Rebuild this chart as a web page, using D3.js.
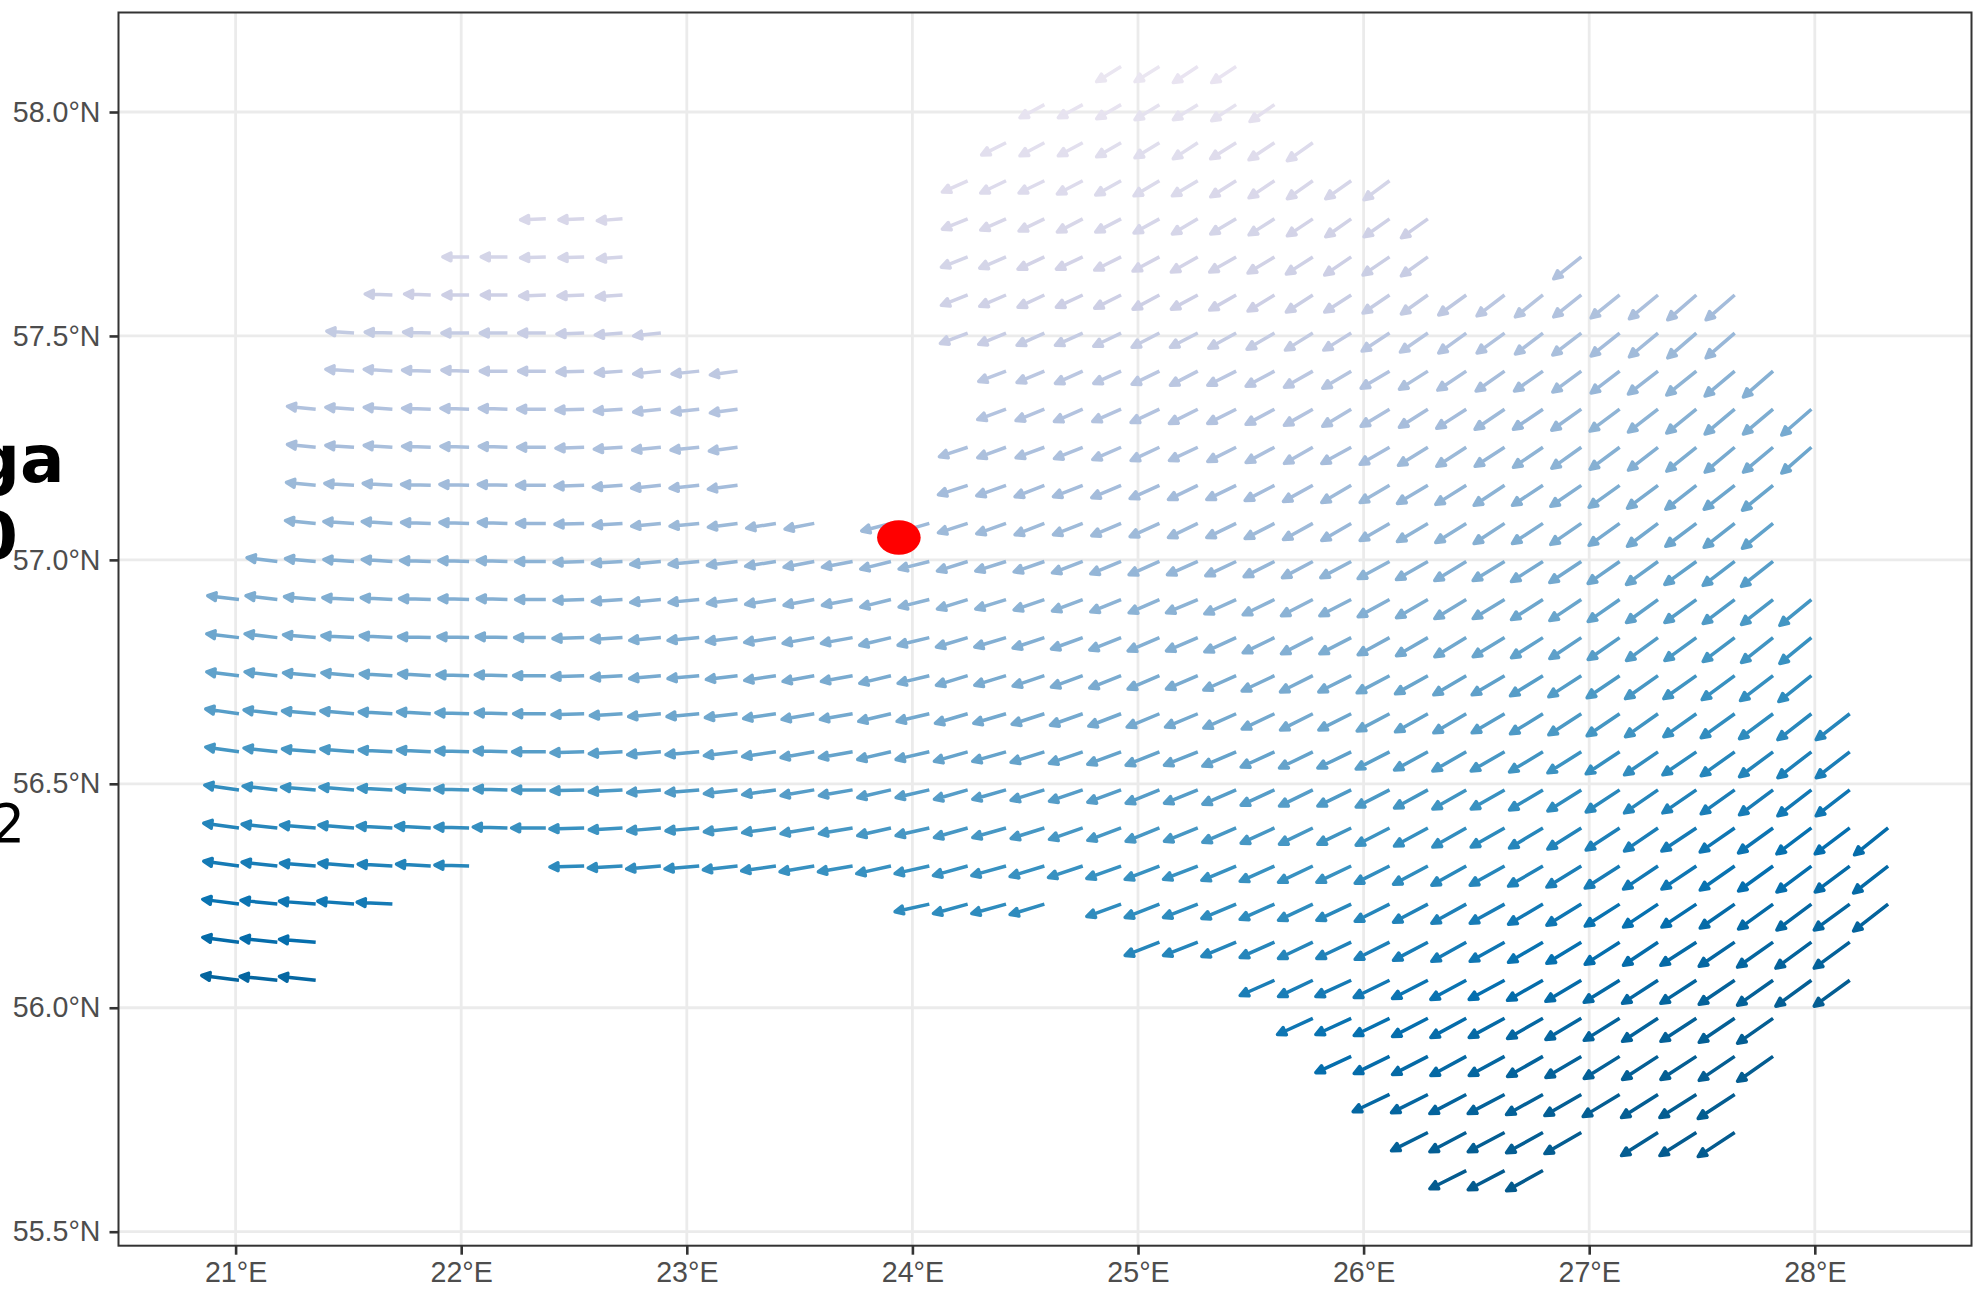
<!DOCTYPE html>
<html><head><meta charset="utf-8"><title>Wind field</title>
<script src="https://cdn.jsdelivr.net/npm/d3@7"></script>
<style>html,body{margin:0;padding:0;background:#fff;overflow:hidden}svg{display:block}</style>
</head><body><div id="chart"></div>
<script>
const lonTicks = [21,22,23,24,25,26,27,28];
const latTicks = [55.5,56,56.5,57,57.5,58];
const lonLabels = ["21°E","22°E","23°E","24°E","25°E","26°E","27°E","28°E"];
const latLabels = ["55.5°N","56.0°N","56.5°N","57.0°N","57.5°N","58.0°N"];
const cityPoint = [23.94, 57.05];
const rowLats = [58.103,58.018,57.933,57.848,57.763,57.678,57.593,57.508,57.423,57.338,57.253,57.168,57.083,56.998,56.913,56.828,56.743,56.658,56.573,56.488,56.403,56.318,56.233,56.148,56.063,55.978,55.893,55.808,55.723,55.638];
const colLons = [21.015,21.185,21.355,21.525,21.695,21.865,22.035,22.205,22.375,22.545,22.715,22.885,23.055,23.225,23.395,23.565,23.735,23.905,24.075,24.245,24.415,24.585,24.755,24.925,25.095,25.265,25.435,25.605,25.775,25.945,26.115,26.285,26.455,26.625,26.795,26.965,27.135,27.305,27.475,27.645,27.815,27.985,28.155,28.325];
const rowSpans = [
[[23,26]],[[21,27]],[[20,28]],[[19,30]],[[8,10],[19,31]],[[6,10],[19,31],[35,35]],[[4,10],[19,39]],[[3,11],[19,39]],[[3,13],[20,40]],[[2,13],[20,41]],
[[2,13],[19,41]],[[2,13],[19,40]],[[2,15],[17,40]],[[1,40]],[[0,41]],[[0,41]],[[0,41]],[[0,42]],[[0,42]],[[0,42]],
[[0,43]],[[0,6],[9,43]],[[0,4],[18,21],[23,43]],[[0,2],[24,42]],[[0,2],[27,42]],[[28,40]],[[29,40]],[[30,39]],[[31,35],[37,39]],[[32,34]]];
const westward = [
[26,26,26,26],
[26,26,26,26,26,26,26],
[26,26,26,26,26,26,27,27,27],
[27,27,27,27,27,27,27,27,27,27,27,27],
[27,27,27,27,27,27,27,27,27,27,27,27,27,27,27,28],
[28,28,27,27,27,28,28,28,28,28,28,28,28,28,28,28,28,28,29],
[29,28,28,28,28,28,28,28,28,28,28,28,28,28,28,28,28,28,28,28,29,29,29,29,30,30,30,30],
[29,29,29,29,29,29,29,29,29,29,29,29,29,29,29,29,29,29,29,29,29,29,29,29,29,30,30,30,30,30],
[30,30,30,29,29,29,29,29,29,29,29,29,29,29,29,29,29,30,30,30,30,30,30,30,30,30,30,30,31,31,31,31],
[30,30,30,30,30,30,30,30,30,29,29,29,30,30,30,30,30,30,30,30,30,30,30,30,31,31,31,31,31,31,31,31,31,31],
[30,30,30,30,30,30,30,30,30,30,30,30,30,30,30,30,30,30,30,30,30,30,31,31,31,31,31,31,31,31,31,31,31,31,31],
[31,31,31,31,31,31,31,31,31,31,31,31,31,31,31,31,31,31,31,31,31,31,31,31,32,32,32,32,32,32,32,32,32,32],
[32,32,32,31,31,31,31,31,31,31,31,31,31,31,31,31,31,31,31,31,31,31,31,31,31,31,31,31,32,32,32,32,32,32,32,32,32,32],
[32,32,32,32,32,32,32,32,32,32,32,32,32,32,32,32,32,32,32,32,32,32,32,32,32,32,32,32,32,33,33,33,33,33,33,33,33,33,33,33],
[33,33,33,33,33,33,32,32,32,32,32,32,32,32,32,32,32,32,32,32,32,32,32,32,32,33,33,33,33,33,33,33,33,33,33,33,33,33,33,33,33,33],
[34,34,34,34,34,34,33,33,33,33,33,33,33,33,33,33,33,33,33,33,33,33,33,33,33,33,33,33,33,33,33,33,33,33,33,33,33,33,33,33,33,33],
[34,34,34,34,34,34,34,34,34,34,33,33,33,33,33,33,33,33,33,33,33,33,33,33,33,33,34,34,34,34,34,34,34,34,34,34,34,34,34,34,34,34],
[35,35,35,35,35,35,35,34,34,34,34,34,34,34,34,34,34,34,34,34,34,34,34,34,34,34,34,34,34,34,34,34,34,34,34,34,34,34,34,35,35,35,35],
[35,35,35,35,35,35,35,35,35,35,35,35,35,35,35,35,35,35,35,35,35,35,35,35,35,35,35,35,35,35,35,35,35,35,35,35,35,35,35,35,35,35,35],
[36,36,36,36,36,36,36,35,35,35,35,35,35,35,35,35,35,35,35,35,35,35,35,35,35,35,35,35,35,35,35,35,35,35,35,35,35,35,35,35,35,35,35],
[37,37,37,37,37,37,36,36,36,36,35,35,35,35,35,35,35,35,35,35,35,35,35,35,35,35,35,35,35,35,35,35,35,35,35,35,35,35,36,36,36,36,36,35],
[37,37,37,37,36,36,36,36,36,36,36,36,36,36,36,36,36,36,36,36,36,36,36,36,36,36,36,36,36,36,36,36,36,36,36,36,36,36,36,36,36,36],
[38,38,38,38,37,36,36,36,36,36,36,36,36,36,36,36,36,36,36,36,36,36,36,36,36,36,36,36,37,36],
[38,38,38,36,36,36,36,36,36,36,36,36,36,36,36,36,36,37,37,37,37,37],
[39,39,38,36,36,37,37,37,37,37,37,37,37,37,37,37,37,37,37],
[37,37,37,37,37,37,37,37,37,37,37,37,37],
[37,37,37,37,37,37,37,37,37,37,37,37],
[38,38,38,38,38,38,38,38,38,38],
[38,38,38,38,38,38,38,38],
[38,38,38]];
const southward = [
[16,16,17,17],
[14,14,15,16,16,17,18],
[13,14,14,15,16,17,17,18,19],
[12,13,13,14,15,16,16,17,18,19,19,20],
[1,1,2,11,12,13,14,14,15,16,16,17,18,19,19,20],
[0,0,1,1,2,11,12,13,13,14,15,16,16,17,18,19,19,20,23],
[-1,-1,0,0,1,1,2,11,12,13,13,14,15,15,16,17,18,18,19,20,21,22,23,23,24,25,26,26],
[-2,-1,-1,0,0,0,1,2,3,11,12,13,13,14,15,15,16,17,18,18,19,20,21,21,22,23,24,25,26,26],
[-2,-2,-1,-1,0,0,1,2,3,3,4,11,12,13,13,14,15,15,16,17,18,18,19,20,21,21,22,23,24,25,26,27],
[-3,-2,-2,-1,-1,-1,0,1,2,3,3,4,11,12,13,13,14,15,15,16,17,18,18,19,20,21,21,22,23,24,25,26,26,27],
[-3,-2,-2,-1,-1,-1,0,1,2,3,3,4,10,11,11,12,13,14,14,15,16,17,17,18,19,20,20,21,22,23,24,25,26,26,27],
[-3,-2,-2,-1,-1,-1,0,1,2,3,3,4,10,11,12,12,13,14,15,15,16,17,18,18,19,20,21,21,22,23,24,25,25,26],
[-3,-2,-2,-1,-1,-1,0,1,2,3,3,4,5,6,8,9,10,11,12,12,13,14,15,15,16,17,18,18,19,20,21,21,22,23,24,24,25,26],
[-4,-3,-2,-2,-1,-1,-1,0,1,2,3,3,4,5,6,6,8,8,10,10,11,12,13,14,14,15,16,17,17,18,19,20,20,21,22,23,24,24,25,26],
[-4,-4,-3,-2,-2,-1,-1,-1,0,1,2,3,3,4,5,6,6,8,8,10,10,11,12,13,14,14,15,16,17,17,18,19,20,20,21,22,23,24,24,25,26,27],
[-4,-4,-3,-2,-2,-1,-1,-1,0,1,2,3,3,4,5,6,6,8,8,10,10,11,12,13,14,14,15,16,17,17,18,19,20,20,21,22,23,24,24,25,26,27],
[-4,-4,-3,-3,-2,-2,-1,-1,0,1,2,3,3,4,5,6,6,8,8,10,10,11,12,13,14,14,15,16,17,17,18,19,20,20,21,22,23,24,24,25,26,27],
[-5,-4,-3,-3,-2,-2,-1,-1,0,1,2,3,3,4,5,6,6,8,8,10,10,11,12,13,14,14,15,16,17,17,18,19,20,20,21,22,23,24,24,25,26,27,27],
[-5,-4,-3,-3,-2,-2,-1,-1,0,1,2,3,3,4,5,6,6,8,8,10,10,11,12,13,14,14,15,16,17,17,18,19,20,20,21,22,23,24,24,25,26,27,27],
[-5,-4,-3,-3,-2,-2,-1,-1,0,1,2,3,3,4,5,6,6,8,8,10,10,11,12,13,14,14,15,16,17,17,18,19,20,20,21,22,23,24,24,25,26,27,27],
[-5,-4,-3,-3,-2,-2,-1,-1,0,1,2,3,3,4,5,6,6,8,8,10,10,11,12,13,14,14,15,16,17,17,18,19,20,20,21,22,23,24,24,25,26,27,27,28],
[-5,-4,-3,-3,-2,-2,-1,1,2,3,3,4,5,6,6,8,8,10,10,11,12,13,14,14,15,16,17,17,18,19,20,20,21,22,23,24,24,25,26,27,27,28],
[-5,-4,-3,-3,-2,8,10,10,11,13,14,14,15,16,17,17,18,19,20,20,21,22,23,24,24,25,26,27,27,28],
[-5,-4,-3,14,14,15,16,17,17,18,19,20,20,21,22,23,24,24,25,26,27,27],
[-5,-4,-4,16,17,17,18,19,20,20,21,22,23,24,24,25,26,27,27],
[17,17,18,19,20,20,21,22,23,24,24,25,26],
[17,18,19,20,20,21,22,23,24,24,25,26],
[18,19,20,20,21,22,23,24,24,25],
[19,20,20,21,22,24,24,25],
[19,20,21]];
const tones = [
[1,1,2,2],
[3,3,3,4,4,4,5],
[6,6,6,7,7,7,8,8,9],
[8,9,9,9,10,10,10,11,11,12,13,14],
[12,12,12,12,12,12,12,13,13,13,14,14,15,16,17,18],
[14,14,14,14,14,14,14,15,15,15,15,15,16,16,17,18,19,20,29],
[19,18,18,18,17,17,17,17,17,17,18,18,18,18,18,18,19,20,21,22,24,25,27,29,30,31,33,34],
[22,22,21,21,21,20,20,20,20,20,20,21,21,21,21,21,21,21,22,23,25,26,28,29,31,32,34,35,37,38],
[25,25,25,24,24,24,24,24,24,24,24,25,25,25,25,25,25,25,25,25,27,28,30,31,33,35,36,38,39,41,43,44],
[29,29,29,28,28,28,28,28,28,28,28,28,28,28,28,28,28,28,28,28,28,30,31,33,34,36,38,39,41,42,44,46,47,49],
[33,33,32,32,32,32,32,31,31,31,31,31,31,31,31,31,31,31,31,31,31,31,33,34,36,37,39,41,42,44,45,47,49,50,52],
[37,36,36,36,35,35,35,35,35,34,34,34,34,34,34,34,34,34,34,34,34,34,36,37,39,40,42,44,45,47,48,50,52,53],
[41,40,40,39,39,39,38,38,38,37,37,37,36,36,36,36,36,36,36,36,36,36,36,36,36,36,38,39,41,42,44,46,47,49,50,52,54,55],
[45,44,44,43,43,43,42,42,41,41,41,40,40,40,39,39,39,39,39,39,39,39,39,39,39,39,39,39,41,42,44,45,47,49,50,52,53,55,57,58],
[48,47,47,46,46,45,45,44,44,44,43,43,43,42,42,42,42,42,42,42,42,42,42,42,42,42,42,42,42,44,45,47,48,50,52,53,55,56,58,60,61,63],
[52,51,50,50,49,49,48,48,47,47,46,46,46,45,45,45,45,45,45,45,45,45,45,45,45,45,45,45,45,47,48,50,51,53,55,56,58,59,61,63,64,66],
[55,55,54,53,53,52,52,51,51,50,50,49,49,49,48,48,48,48,48,48,48,48,48,48,48,48,48,48,48,50,51,53,54,56,58,59,61,62,64,66,67,69],
[58,58,57,56,56,55,55,54,54,53,53,52,52,51,51,50,50,50,50,50,50,50,50,50,50,50,50,50,50,52,53,55,56,58,60,61,63,64,66,68,69,71,72],
[63,62,62,61,60,59,59,58,58,57,57,56,56,55,55,54,54,54,54,54,54,54,54,54,54,54,54,54,54,56,57,59,60,62,64,65,67,68,70,72,73,75,76],
[68,67,66,65,65,64,63,63,62,61,61,60,60,59,59,58,58,58,58,58,58,58,58,58,58,58,58,58,58,60,61,63,64,66,68,69,71,72,74,76,77,79,80],
[73,72,71,70,69,69,68,67,66,66,65,64,64,63,63,62,62,62,62,62,62,62,62,62,62,62,62,62,62,64,65,67,68,70,72,73,75,76,78,80,81,83,84,86],
[78,77,76,75,74,73,72,70,69,68,68,67,67,66,66,66,66,66,66,66,66,66,66,66,66,66,66,66,68,69,71,72,74,76,77,79,80,82,84,85,87,88,90],
[82,81,80,79,78,69,69,69,69,69,69,69,69,69,69,71,72,74,75,77,79,80,82,83,85,87,88,90,91,93],
[87,86,85,72,72,72,72,72,74,75,77,78,80,82,83,85,86,88,90,91,93,94],
[92,91,90,76,76,78,79,81,82,84,86,87,89,90,92,94,95,96,97],
[80,82,83,85,86,88,90,91,93,94,95,96,97],
[85,86,88,89,91,93,94,95,96,97,97,98],
[90,91,93,94,95,96,97,97,98,98],
[95,96,97,97,98,98,99,99],
[99,99,100]];
const palette = ["#ece7f2","#d0d1e6","#a6bddb","#74a9cf","#3690c0","#0570b0","#045a8d"];

const W = 1982, H = 1289;
const panel = {left:118.5, right:1971.5, top:12.5, bottom:1245.7};
const x = d3.scaleLinear().domain([21,28]).range([235.6,1814.8]);
const y = d3.scaleLinear().domain([55.5,58]).range([1231.7,112]);
const color = d3.scaleLinear().domain(palette.map((_,i)=>i*100/(palette.length-1))).range(palette).interpolate(d3.interpolateRgb);
// one vector unit is one pixel at the chart's scales
const lonPerUnit = 1/225.6, latPerUnit = 1/448;

const arrows = [];
rowSpans.forEach((spans,r)=>{
  let k = 0;
  spans.forEach(([a,b])=>{
    for(let c=a;c<=b;c++){
      arrows.push({lon:colLons[c],lat:rowLats[r],u:westward[r][k],v:southward[r][k],t:tones[r][k]});
      k++;
    }
  });
});

const svg = d3.select("#chart").append("svg").attr("width",W).attr("height",H);
svg.append("rect").attr("width",W).attr("height",H).attr("fill","#fff");

const defs = svg.append("defs");
defs.append("clipPath").attr("id","panelClip").append("rect")
  .attr("x",panel.left).attr("y",panel.top).attr("width",panel.right-panel.left).attr("height",panel.bottom-panel.top);

const grid = svg.append("g").attr("stroke","#ebebeb").attr("stroke-width",2.8).attr("clip-path","url(#panelClip)");
grid.selectAll("line.v").data(lonTicks).join("line").attr("class","v")
  .attr("x1",d=>x(d)).attr("x2",d=>x(d)).attr("y1",panel.top).attr("y2",panel.bottom);
grid.selectAll("line.h").data(latTicks).join("line").attr("class","h")
  .attr("y1",d=>y(d)).attr("y2",d=>y(d)).attr("x1",panel.left).attr("x2",panel.right);

function arrowPath(d){
  const x0=x(d.lon), y0=y(d.lat)+0.7;
  const x1=x(d.lon-d.u*lonPerUnit), y1=y(d.lat-d.v*latPerUnit)+0.7;
  const a=Math.atan2(y1-y0,x1-x0), ca=Math.cos(a), sa=Math.sin(a);
  const tx=x1-ca*1.8, ty=y1-sa*1.8;
  const bx=tx-ca*8, by=ty-sa*8;
  return `M${x0},${y0}L${bx},${by}M${tx},${ty}L${bx-sa*3.9},${by+ca*3.9}L${bx+sa*3.9},${by-ca*3.9}Z`;
}
svg.append("g").attr("clip-path","url(#panelClip)").selectAll("path").data(arrows).join("path")
  .attr("d",arrowPath)
  .attr("stroke",d=>color(d.t)).attr("fill",d=>color(d.t))
  .attr("stroke-width",3.5).attr("stroke-linejoin","round").attr("stroke-linecap","butt");

svg.append("ellipse").attr("cx",x(cityPoint[0])).attr("cy",y(cityPoint[1]))
  .attr("rx",21.8).attr("ry",17.2).attr("fill","#ff0000");

svg.append("rect").attr("x",panel.left).attr("y",panel.top)
  .attr("width",panel.right-panel.left).attr("height",panel.bottom-panel.top)
  .attr("fill","none").attr("stroke","#333333").attr("stroke-width",2);

const xAxis = d3.axisBottom(x).tickValues(lonTicks).tickSize(9).tickPadding(7)
  .tickFormat((d,i)=>lonLabels[i]);
const yAxis = d3.axisLeft(y).tickValues(latTicks).tickSize(9).tickPadding(9)
  .tickFormat((d,i)=>latLabels[i]);
const gx = svg.append("g").attr("transform",`translate(0,${panel.bottom})`).call(xAxis);
const gy = svg.append("g").attr("transform",`translate(${panel.left},0)`).call(yAxis);
[gx,gy].forEach(g=>{
  g.select(".domain").remove();
  g.selectAll("line").attr("stroke","#333333").attr("stroke-width",2.6);
  g.selectAll("text").attr("fill","#4d4d4d").attr("font-family","'Liberation Sans',Arial,sans-serif").attr("font-size",28.6);
});

const clipped = svg.append("g").attr("font-family","'DejaVu Sans',sans-serif").attr("fill","#000").attr("text-anchor","end");
clipped.append("text").attr("x",64.5).attr("y",482).attr("font-size",66).attr("font-weight","bold").text("ga");
clipped.append("text").attr("x",18).attr("y",559).attr("font-size",66).attr("font-weight","bold").text("0");
clipped.append("text").attr("x",25).attr("y",842).attr("font-size",53).text("2");
</script></body></html>
